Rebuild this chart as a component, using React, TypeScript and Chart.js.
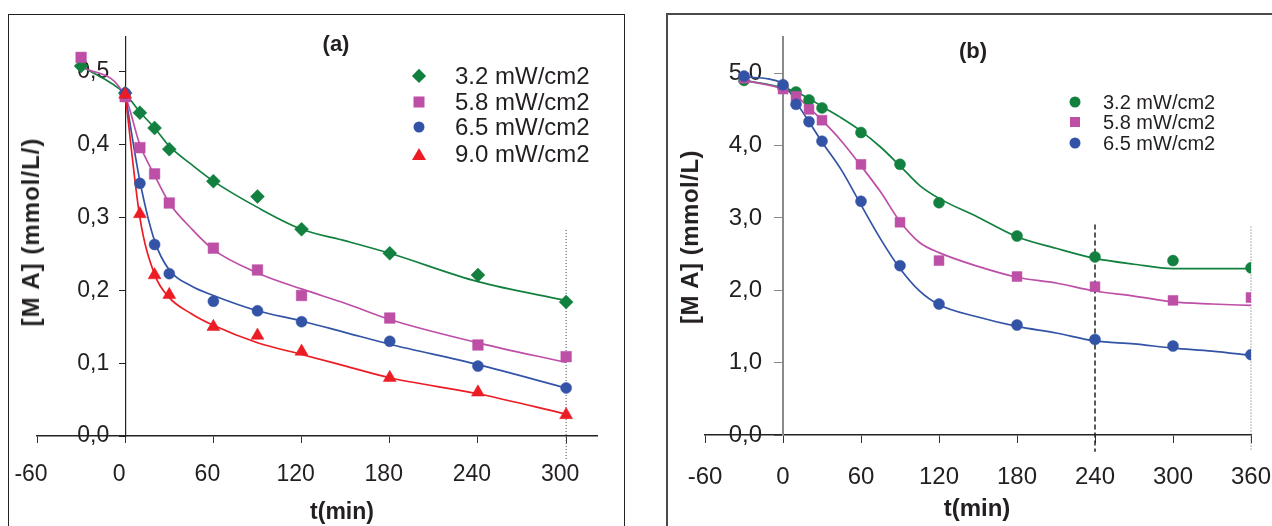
import React, { useEffect, useRef } from 'react';
import { Chart, registerables, LinearScale } from 'chart.js';

// Linear scale whose tick labels can be moved sideways (for an axis placed at x = 0)
class ShiftedLinearScale extends LinearScale {
  static id = 'linearShifted';
  static defaults = LinearScale.defaults;
  _computeLabelItems(chartArea: any) {
    const items = (LinearScale.prototype as any)._computeLabelItems.call(this, chartArea);
    const off = ((this as any).options.ticks.shiftX as number) || 0;
    for (const it of items) {
      const t = it.options.translation;
      it.options.translation = [t[0] + off, t[1]];
    }
    return items;
  }
}

Chart.register(...registerables, ShiftedLinearScale as any);

const FONT = '"Liberation Sans", Arial, Helvetica, sans-serif';
const TEXT = '#231f20';

const GREEN = '#12803f';
const MAGENTA = '#bd4fa6';
const BLUE = '#3253a6';
const RED = '#ec1c24';

// ---------- Panel (a) ----------
const seriesNamesA = ['3.2 mW/cm2', '5.8 mW/cm2', '6.5 mW/cm2', '9.0 mW/cm2'];
const timesA = [-30, 0, 10, 20, 30, 60, 90, 120, 180, 240, 300];
const g32A = [0.508, 0.471, 0.444, 0.423, 0.394, 0.350, 0.329, 0.284, 0.251, 0.221, 0.184];
const m58A = [0.520, 0.466, 0.396, 0.360, 0.320, 0.258, 0.228, 0.193, 0.162, 0.125, 0.109];
const b65A = [null, 0.471, 0.347, 0.263, 0.223, 0.185, 0.172, 0.157, 0.130, 0.096, 0.066];
const r90A = [null, 0.469, 0.305, 0.221, 0.194, 0.150, 0.138, 0.116, 0.080, 0.060, 0.029];

const fitTimesA = [-30, 0, 10, 20, 30, 45, 60, 90, 120, 150, 180, 240, 300];
const g32FitA = [0.508, 0.470, 0.445, 0.423, 0.398, 0.373, 0.350, 0.314, 0.284, 0.268, 0.251, 0.212, 0.186];
const m58FitA = [0.508, 0.466, 0.400, 0.358, 0.320, 0.285, 0.256, 0.224, 0.202, 0.182, 0.160, 0.128, 0.101];
const b65FitA = [null, 0.470, 0.350, 0.268, 0.228, 0.206, 0.193, 0.172, 0.158, 0.142, 0.126, 0.098, 0.066];
const r90FitA = [null, 0.470, 0.300, 0.222, 0.190, 0.168, 0.152, 0.128, 0.112, 0.096, 0.080, 0.058, 0.030];

const xTicksA = [-60, 0, 60, 120, 180, 240, 300];
const yTicksA = [0, 0.1, 0.2, 0.3, 0.4, 0.5];
const markerLineA = { x: 300, yTop: 0.283, yBottom: -0.032 };

// ---------- Panel (b) ----------
const seriesNamesB = ['3.2 mW/cm2', '5.8 mW/cm2', '6.5 mW/cm2'];
const timesB = [-30, 0, 10, 20, 30, 60, 90, 120, 180, 240, 300, 360];
const g32B = [4.90, 4.80, 4.74, 4.63, 4.52, 4.18, 3.74, 3.21, 2.75, 2.46, 2.41, 2.31];
const m58B = [4.93, 4.78, 4.68, 4.50, 4.35, 3.74, 2.94, 2.41, 2.19, 2.05, 1.86, 1.90];
const b65B = [4.96, 4.84, 4.57, 4.33, 4.06, 3.23, 2.34, 1.81, 1.52, 1.32, 1.23, 1.11];

const fitTimesB = [-30, 0, 10, 20, 30, 45, 60, 75, 90, 105, 120, 150, 180, 210, 240, 270, 300, 330, 360];
const g32FitB = [4.90, 4.80, 4.74, 4.65, 4.54, 4.38, 4.20, 3.98, 3.72, 3.45, 3.27, 3.01, 2.74, 2.58, 2.44, 2.36, 2.30, 2.30, 2.30];
const m58FitB = [4.90, 4.78, 4.69, 4.52, 4.35, 4.06, 3.72, 3.36, 2.95, 2.66, 2.52, 2.33, 2.18, 2.10, 1.99, 1.92, 1.84, 1.81, 1.79];
const b65FitB = [4.95, 4.86, 4.60, 4.33, 4.05, 3.66, 3.18, 2.71, 2.30, 1.99, 1.80, 1.63, 1.50, 1.41, 1.30, 1.26, 1.20, 1.16, 1.10];

const xTicksB = [-60, 0, 60, 120, 180, 240, 300, 360];
const yTicksB = [0, 1, 2, 3, 4, 5];
const dashLineB = { x: 240, yTop: 2.91, yBottom: -0.23 };
const dotLineB = { x: 360, yTop: 2.88, yBottom: -0.21 };

// ---------- helpers ----------
type Num = number | null;
const pts = (xs: number[], ys: Num[]) =>
  xs.map((x, i) => ({ x, y: ys[i] })).filter((p) => p.y !== null) as { x: number; y: number }[];

const pointSet = (label: string, xs: number[], ys: Num[], color: string, style: string, radius: number, order: number) => ({
  label,
  data: pts(xs, ys),
  showLine: false,
  pointStyle: style,
  pointRadius: radius,
  pointHoverRadius: radius,
  pointBackgroundColor: color,
  pointBorderColor: color,
  pointBorderWidth: 0.5,
  order,
});

const fitSet = (xs: number[], ys: Num[], color: string, order: number) => ({
  label: 'fit',
  data: pts(xs, ys),
  showLine: true,
  borderColor: color,
  borderWidth: 1.7,
  pointRadius: 0,
  pointHoverRadius: 0,
  cubicInterpolationMode: 'monotone',
  order,
});

const vLineSet = (l: { x: number; yTop: number; yBottom: number }, color: string, dash: number[], width: number) => ({
  label: 'ref',
  data: [
    { x: l.x, y: l.yTop },
    { x: l.x, y: l.yBottom },
  ],
  showLine: true,
  borderColor: color,
  borderWidth: width,
  borderDash: dash,
  pointRadius: 0,
  pointHoverRadius: 0,
  clip: false,
  order: 30,
});

const fmtComma = (v: number) => Number(v).toFixed(1).replace('.', ',');

function makeOptions(p: {
  padLeft: number; padRight: number; padTop: number; xAxisH: number;
  xMin: number; xMax: number; yMax: number; xTicks: number[]; yTicks: number[];
  xStep: number; yStep: number; fontSize: number; labelOffset: number; xPad: number; xTick: number;
  yShift: number; yTick: number; yBorderColor: string; yBorderWidth: number;
}) {
  return {
    responsive: false,
    animation: false,
    devicePixelRatio: 1,
    events: [],
    layout: { padding: { left: p.padLeft, right: p.padRight, top: p.padTop, bottom: 0 } },
    plugins: { legend: { display: false }, tooltip: { enabled: false }, title: { display: false } },
    scales: {
      x: {
        type: 'linear',
        position: 'bottom',
        min: p.xMin,
        max: p.xMax,
        afterFit: (s: any) => { s.height = p.xAxisH; },
        afterBuildTicks: (s: any) => { s.ticks = p.xTicks.map((v) => ({ value: v })); },
        ticks: {
          stepSize: p.xStep,
          includeBounds: false,
          autoSkip: false,
          maxRotation: 0,
          labelOffset: p.labelOffset,
          padding: p.xPad,
          color: TEXT,
          font: { family: FONT, size: p.fontSize },
          callback: (v: any) => String(v),
        },
        grid: { drawOnChartArea: false, drawTicks: true, tickLength: p.xTick, color: '#333', lineWidth: 1 },
        border: { display: true, color: '#222', width: 1.5 },
      },
      y: {
        type: 'linearShifted',
        position: { x: 0 },
        min: 0,
        max: p.yMax,
        afterBuildTicks: (s: any) => { s.ticks = p.yTicks.map((v) => ({ value: v })); },
        ticks: {
          stepSize: p.yStep,
          includeBounds: false,
          autoSkip: false,
          shiftX: p.yShift,
          color: TEXT,
          font: { family: FONT, size: p.fontSize },
          callback: (v: any) => fmtComma(v),
        },
        grid: { drawOnChartArea: false, drawTicks: true, tickLength: p.yTick, color: p.yBorderColor, lineWidth: 1 },
        border: { display: true, color: p.yBorderColor, width: p.yBorderWidth },
      },
    },
  };
}

const configA = {
  type: 'scatter',
  data: {
    datasets: [
      pointSet(seriesNamesA[3], timesA, r90A, RED, 'triangle', 7.5, 0),
      pointSet(seriesNamesA[2], timesA, b65A, BLUE, 'circle', 5.5, 1),
      pointSet(seriesNamesA[1], timesA, m58A, MAGENTA, 'rect', 7.5, 2),
      pointSet(seriesNamesA[0], timesA, g32A, GREEN, 'rectRot', 7, 3),
      fitSet(fitTimesA, r90FitA, RED, 10),
      fitSet(fitTimesA, b65FitA, BLUE, 11),
      fitSet(fitTimesA, m58FitA, MAGENTA, 12),
      fitSet(fitTimesA, g32FitA, GREEN, 13),
      vLineSet(markerLineA, '#444', [1, 2], 1),
    ],
  },
  options: makeOptions({
    padLeft: 37, padRight: 43, padTop: 37, xAxisH: 90,
    xMin: -60, xMax: 321, yMax: 0.548, xTicks: xTicksA, yTicks: yTicksA,
    xStep: 60, yStep: 0.1, fontSize: 23, labelOffset: -6, xPad: 18, xTick: 7,
    yShift: -16, yTick: 6, yBorderColor: '#222', yBorderWidth: 1.2,
  }),
};

const configB = {
  type: 'scatter',
  data: {
    datasets: [
      pointSet(seriesNamesB[2], timesB, b65B, BLUE, 'circle', 5.5, 0),
      pointSet(seriesNamesB[1], timesB, m58B, MAGENTA, 'rect', 7, 1),
      pointSet(seriesNamesB[0], timesB, g32B, GREEN, 'circle', 5.5, 2),
      fitSet(fitTimesB, b65FitB, BLUE, 10),
      fitSet(fitTimesB, m58FitB, MAGENTA, 11),
      fitSet(fitTimesB, g32FitB, GREEN, 12),
      vLineSet(dashLineB, '#222', [5, 3], 1.5),
      vLineSet(dotLineB, '#666', [1, 2], 1),
    ],
  },
  options: makeOptions({
    padLeft: 65, padRight: 89, padTop: 37, xAxisH: 91,
    xMin: -60, xMax: 360, yMax: 5.5, xTicks: xTicksB, yTicks: yTicksB,
    xStep: 60, yStep: 1, fontSize: 24, labelOffset: 0, xPad: 20, xTick: 8,
    yShift: -21, yTick: 8, yBorderColor: '#8a8a8a', yBorderWidth: 2,
  }),
};

function ChartCanvas({ config, left, width }: { config: any; left: number; width: number }) {
  const ref = useRef<HTMLCanvasElement>(null);
  useEffect(() => {
    const chart = new Chart(ref.current as HTMLCanvasElement, config);
    return () => chart.destroy();
  }, [config]);
  return (
    <canvas
      ref={ref}
      width={width}
      height={526}
      style={{ position: 'absolute', left, top: 0, width, height: 526 }}
    />
  );
}

const abs = (extra: React.CSSProperties): React.CSSProperties => ({
  position: 'absolute',
  fontFamily: FONT,
  color: TEXT,
  whiteSpace: 'nowrap',
  lineHeight: 1,
  ...extra,
});

function Marker({ shape, color, size }: { shape: string; color: string; size: number }) {
  if (shape === 'diamond') {
    const s = size * 0.72;
    return <div style={{ width: s, height: s, background: color, transform: 'rotate(45deg)' }} />;
  }
  if (shape === 'square') return <div style={{ width: size, height: size, background: color }} />;
  if (shape === 'circle') return <div style={{ width: size, height: size, background: color, borderRadius: '50%' }} />;
  return (
    <div
      style={{
        width: 0,
        height: 0,
        borderLeft: `${size * 0.6}px solid transparent`,
        borderRight: `${size * 0.6}px solid transparent`,
        borderBottom: `${size}px solid ${color}`,
      }}
    />
  );
}

function LegendRow({ x, y, textX, shape, color, size, label, fontSize }: any) {
  return (
    <>
      <div style={abs({ left: x, top: y, transform: 'translate(-50%, -50%)' })}>
        <Marker shape={shape} color={color} size={size} />
      </div>
      <div style={abs({ left: textX, top: y, transform: 'translateY(-50%)', fontSize })}>{label}</div>
    </>
  );
}

export default function App() {
  const legendA = [
    { shape: 'diamond', color: GREEN, size: 14, y: 76 },
    { shape: 'square', color: MAGENTA, size: 11, y: 102 },
    { shape: 'circle', color: BLUE, size: 11, y: 127 },
    { shape: 'triangle', color: RED, size: 12, y: 154 },
  ];
  const legendB = [
    { shape: 'circle', color: GREEN, size: 11, y: 102 },
    { shape: 'square', color: MAGENTA, size: 10, y: 122 },
    { shape: 'circle', color: BLUE, size: 11, y: 143 },
  ];
  return (
    <div style={{ position: 'fixed', left: 0, top: 0, width: 1272, height: 526, overflow: 'hidden', background: '#fff' }}>
      {/* frames */}
      <div style={{ position: 'absolute', left: 8, top: 14, width: 615, height: 600, border: '1.5px solid #222' }} />
      <div style={{ position: 'absolute', left: 666, top: 13, width: 700, height: 600, border: '2px solid #4a4a4a' }} />

      <ChartCanvas config={configA} left={0} width={640} />
      <ChartCanvas config={configB} left={640} width={700} />

      {/* panel (a) texts */}
      <div style={abs({ left: 336, top: 44, transform: 'translate(-50%, -50%)', fontSize: 22, fontWeight: 'bold' })}>(a)</div>
      <div style={abs({ left: 342, top: 511, transform: 'translate(-50%, -50%)', fontSize: 23, fontWeight: 'bold' })}>t(min)</div>
      <div style={abs({ left: 31, top: 232, transform: 'translate(-50%, -50%) rotate(-90deg)', fontSize: 24, fontWeight: 'bold', letterSpacing: 1 })}>[M A] (mmol/L/)</div>
      {legendA.map((l, i) => (
        <LegendRow key={i} x={419} y={l.y} textX={455} shape={l.shape} color={l.color} size={l.size} label={seriesNamesA[i]} fontSize={24} />
      ))}

      {/* panel (b) texts */}
      <div style={abs({ left: 973, top: 51, transform: 'translate(-50%, -50%)', fontSize: 22, fontWeight: 'bold' })}>(b)</div>
      <div style={abs({ left: 977, top: 508, transform: 'translate(-50%, -50%)', fontSize: 24, fontWeight: 'bold' })}>t(min)</div>
      <div style={abs({ left: 690, top: 237, transform: 'translate(-50%, -50%) rotate(-90deg)', fontSize: 24, fontWeight: 'bold', letterSpacing: 0.5 })}>[M A] (mmol/L)</div>
      {legendB.map((l, i) => (
        <LegendRow key={i} x={1075} y={l.y} textX={1103} shape={l.shape} color={l.color} size={l.size} label={seriesNamesB[i]} fontSize={20} />
      ))}
    </div>
  );
}
